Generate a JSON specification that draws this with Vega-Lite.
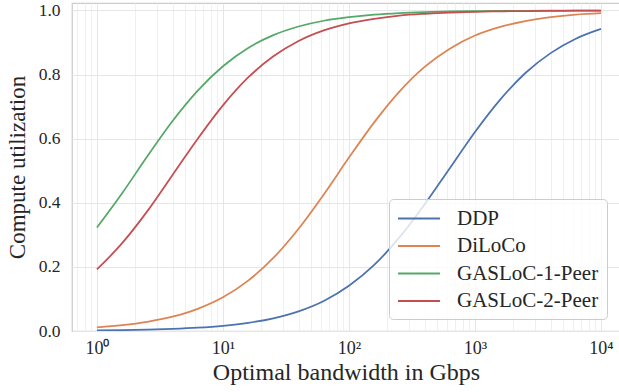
{
  "$schema": "https://vega.github.io/schema/vega-lite/v6.json",
  "width": 548,
  "height": 328,
  "autosize": {"type": "none"},
  "padding": {"left": 72, "top": 3, "right": 0, "bottom": 61},
  "background": "white",
  "config": {
    "view": {"stroke": "#cccccc", "strokeWidth": 1.25},
    "font": "Liberation Serif",
    "axis": {"labelFont": "Liberation Serif", "titleFont": "Liberation Serif", "labelColor": "#262626", "titleColor": "#262626", "titleFontWeight": "normal", "domain": false, "ticks": false}
  },
  "data": {
    "values": [
      {"s": "DDP", "x": 1, "u": 0.0016},
      {"s": "DDP", "x": 1.585, "u": 0.0026},
      {"s": "DDP", "x": 2.512, "u": 0.0041},
      {"s": "DDP", "x": 3.981, "u": 0.0065},
      {"s": "DDP", "x": 6.31, "u": 0.0102},
      {"s": "DDP", "x": 10, "u": 0.0161},
      {"s": "DDP", "x": 15.85, "u": 0.0253},
      {"s": "DDP", "x": 25.12, "u": 0.0396},
      {"s": "DDP", "x": 39.81, "u": 0.0613},
      {"s": "DDP", "x": 63.1, "u": 0.0937},
      {"s": "DDP", "x": 100, "u": 0.141},
      {"s": "DDP", "x": 158.5, "u": 0.206},
      {"s": "DDP", "x": 251.2, "u": 0.292},
      {"s": "DDP", "x": 398.1, "u": 0.395},
      {"s": "DDP", "x": 631, "u": 0.508},
      {"s": "DDP", "x": 1000, "u": 0.621},
      {"s": "DDP", "x": 1585, "u": 0.722},
      {"s": "DDP", "x": 2512, "u": 0.805},
      {"s": "DDP", "x": 3981, "u": 0.867},
      {"s": "DDP", "x": 6310, "u": 0.912},
      {"s": "DDP", "x": 10000, "u": 0.9425},
      {"s": "DiLoCo", "x": 1, "u": 0.0116},
      {"s": "DiLoCo", "x": 1.585, "u": 0.0183},
      {"s": "DiLoCo", "x": 2.512, "u": 0.0287},
      {"s": "DiLoCo", "x": 3.981, "u": 0.0447},
      {"s": "DiLoCo", "x": 6.31, "u": 0.0691},
      {"s": "DiLoCo", "x": 10, "u": 0.105},
      {"s": "DiLoCo", "x": 15.85, "u": 0.157},
      {"s": "DiLoCo", "x": 25.12, "u": 0.228},
      {"s": "DiLoCo", "x": 39.81, "u": 0.319},
      {"s": "DiLoCo", "x": 63.1, "u": 0.426},
      {"s": "DiLoCo", "x": 100, "u": 0.541},
      {"s": "DiLoCo", "x": 158.5, "u": 0.651},
      {"s": "DiLoCo", "x": 251.2, "u": 0.747},
      {"s": "DiLoCo", "x": 398.1, "u": 0.824},
      {"s": "DiLoCo", "x": 631, "u": 0.881},
      {"s": "DiLoCo", "x": 1000, "u": 0.922},
      {"s": "DiLoCo", "x": 1585, "u": 0.949},
      {"s": "DiLoCo", "x": 2512, "u": 0.967},
      {"s": "DiLoCo", "x": 3981, "u": 0.979},
      {"s": "DiLoCo", "x": 6310, "u": 0.987},
      {"s": "DiLoCo", "x": 10000, "u": 0.9916},
      {"s": "GASLoC-1-Peer", "x": 1, "u": 0.323},
      {"s": "GASLoC-1-Peer", "x": 1.585, "u": 0.43},
      {"s": "GASLoC-1-Peer", "x": 2.512, "u": 0.545},
      {"s": "GASLoC-1-Peer", "x": 3.981, "u": 0.655},
      {"s": "GASLoC-1-Peer", "x": 6.31, "u": 0.75},
      {"s": "GASLoC-1-Peer", "x": 10, "u": 0.826},
      {"s": "GASLoC-1-Peer", "x": 15.85, "u": 0.883},
      {"s": "GASLoC-1-Peer", "x": 25.12, "u": 0.923},
      {"s": "GASLoC-1-Peer", "x": 39.81, "u": 0.95},
      {"s": "GASLoC-1-Peer", "x": 63.1, "u": 0.968},
      {"s": "GASLoC-1-Peer", "x": 100, "u": 0.979},
      {"s": "GASLoC-1-Peer", "x": 158.5, "u": 0.987},
      {"s": "GASLoC-1-Peer", "x": 251.2, "u": 0.992},
      {"s": "GASLoC-1-Peer", "x": 398.1, "u": 0.995},
      {"s": "GASLoC-1-Peer", "x": 631, "u": 0.997},
      {"s": "GASLoC-1-Peer", "x": 1000, "u": 0.998},
      {"s": "GASLoC-1-Peer", "x": 1585, "u": 0.9987},
      {"s": "GASLoC-1-Peer", "x": 2512, "u": 0.9992},
      {"s": "GASLoC-1-Peer", "x": 3981, "u": 0.9995},
      {"s": "GASLoC-1-Peer", "x": 6310, "u": 0.9997},
      {"s": "GASLoC-1-Peer", "x": 10000, "u": 0.9998},
      {"s": "GASLoC-2-Peer", "x": 1, "u": 0.192},
      {"s": "GASLoC-2-Peer", "x": 1.585, "u": 0.274},
      {"s": "GASLoC-2-Peer", "x": 2.512, "u": 0.374},
      {"s": "GASLoC-2-Peer", "x": 3.981, "u": 0.487},
      {"s": "GASLoC-2-Peer", "x": 6.31, "u": 0.6},
      {"s": "GASLoC-2-Peer", "x": 10, "u": 0.704},
      {"s": "GASLoC-2-Peer", "x": 15.85, "u": 0.791},
      {"s": "GASLoC-2-Peer", "x": 25.12, "u": 0.857},
      {"s": "GASLoC-2-Peer", "x": 39.81, "u": 0.905},
      {"s": "GASLoC-2-Peer", "x": 63.1, "u": 0.938},
      {"s": "GASLoC-2-Peer", "x": 100, "u": 0.96},
      {"s": "GASLoC-2-Peer", "x": 158.5, "u": 0.974},
      {"s": "GASLoC-2-Peer", "x": 251.2, "u": 0.984},
      {"s": "GASLoC-2-Peer", "x": 398.1, "u": 0.9896},
      {"s": "GASLoC-2-Peer", "x": 631, "u": 0.9934},
      {"s": "GASLoC-2-Peer", "x": 1000, "u": 0.9958},
      {"s": "GASLoC-2-Peer", "x": 1585, "u": 0.9974},
      {"s": "GASLoC-2-Peer", "x": 2512, "u": 0.9983},
      {"s": "GASLoC-2-Peer", "x": 3981, "u": 0.9989},
      {"s": "GASLoC-2-Peer", "x": 6310, "u": 0.9993},
      {"s": "GASLoC-2-Peer", "x": 10000, "u": 0.9996}
    ]
  },
  "mark": {"type": "line", "interpolate": "monotone", "strokeWidth": 1.75, "clip": true},
  "encoding": {
    "x": {
      "field": "x",
      "type": "quantitative",
      "scale": {"type": "log", "domain": [0.634, 14150], "nice": false, "zero": false},
      "axis": {
        "title": "Optimal bandwidth in Gbps",
        "titleFontSize": 24,
        "titlePadding": 3,
        "labelFontSize": 18,
        "labelPadding": 8,
        "values": [0.7, 0.8, 0.9, 1, 2, 3, 4, 5, 6, 7, 8, 9, 10, 20, 30, 40, 50, 60, 70, 80, 90, 100, 200, 300, 400, 500, 600, 700, 800, 900, 1000, 2000, 3000, 4000, 5000, 6000, 7000, 8000, 9000, 10000],
        "labelExpr": "datum.value == 1 ? '10⁰' : datum.value == 10 ? '10¹' : datum.value == 100 ? '10²' : datum.value == 1000 ? '10³' : datum.value == 10000 ? '10⁴' : ''",
        "grid": true,
        "gridColor": {"condition": {"test": "datum.value == 1 || datum.value == 10 || datum.value == 100 || datum.value == 1000 || datum.value == 10000", "value": "#e6e6e6"}, "value": "#f0f0f0"},
        "gridWidth": 1
      }
    },
    "y": {
      "field": "u",
      "type": "quantitative",
      "scale": {"domain": [0, 1.0234], "nice": false},
      "axis": {
        "title": "Compute utilization",
        "titleFontSize": 23,
        "titlePadding": 9,
        "labelFontSize": 17.5,
        "labelPadding": 12,
        "values": [0, 0.2, 0.4, 0.6, 0.8, 1.0],
        "format": ".1f",
        "grid": true,
        "gridColor": "#e6e6e6"
      }
    },
    "color": {
      "field": "s",
      "type": "nominal",
      "scale": {"domain": ["DDP", "DiLoCo", "GASLoC-1-Peer", "GASLoC-2-Peer"], "range": ["#4c72b0", "#dd8452", "#55a868", "#c44e52"]},
      "legend": {
        "title": null,
        "orient": "none",
        "legendX": 317,
        "legendY": 196,
        "symbolType": "M-1,0H3",
        "symbolSize": 441,
        "symbolStrokeWidth": 2,
        "labelFont": "Liberation Serif",
        "labelFontSize": 21,
        "labelColor": "#262626",
        "labelOffset": 37,
        "labelLimit": 300,
        "rowPadding": 5.5,
        "padding": 8,
        "fillColor": "rgba(255,255,255,0.8)",
        "strokeColor": "#cccccc",
        "cornerRadius": 4
      }
    }
  }
}
